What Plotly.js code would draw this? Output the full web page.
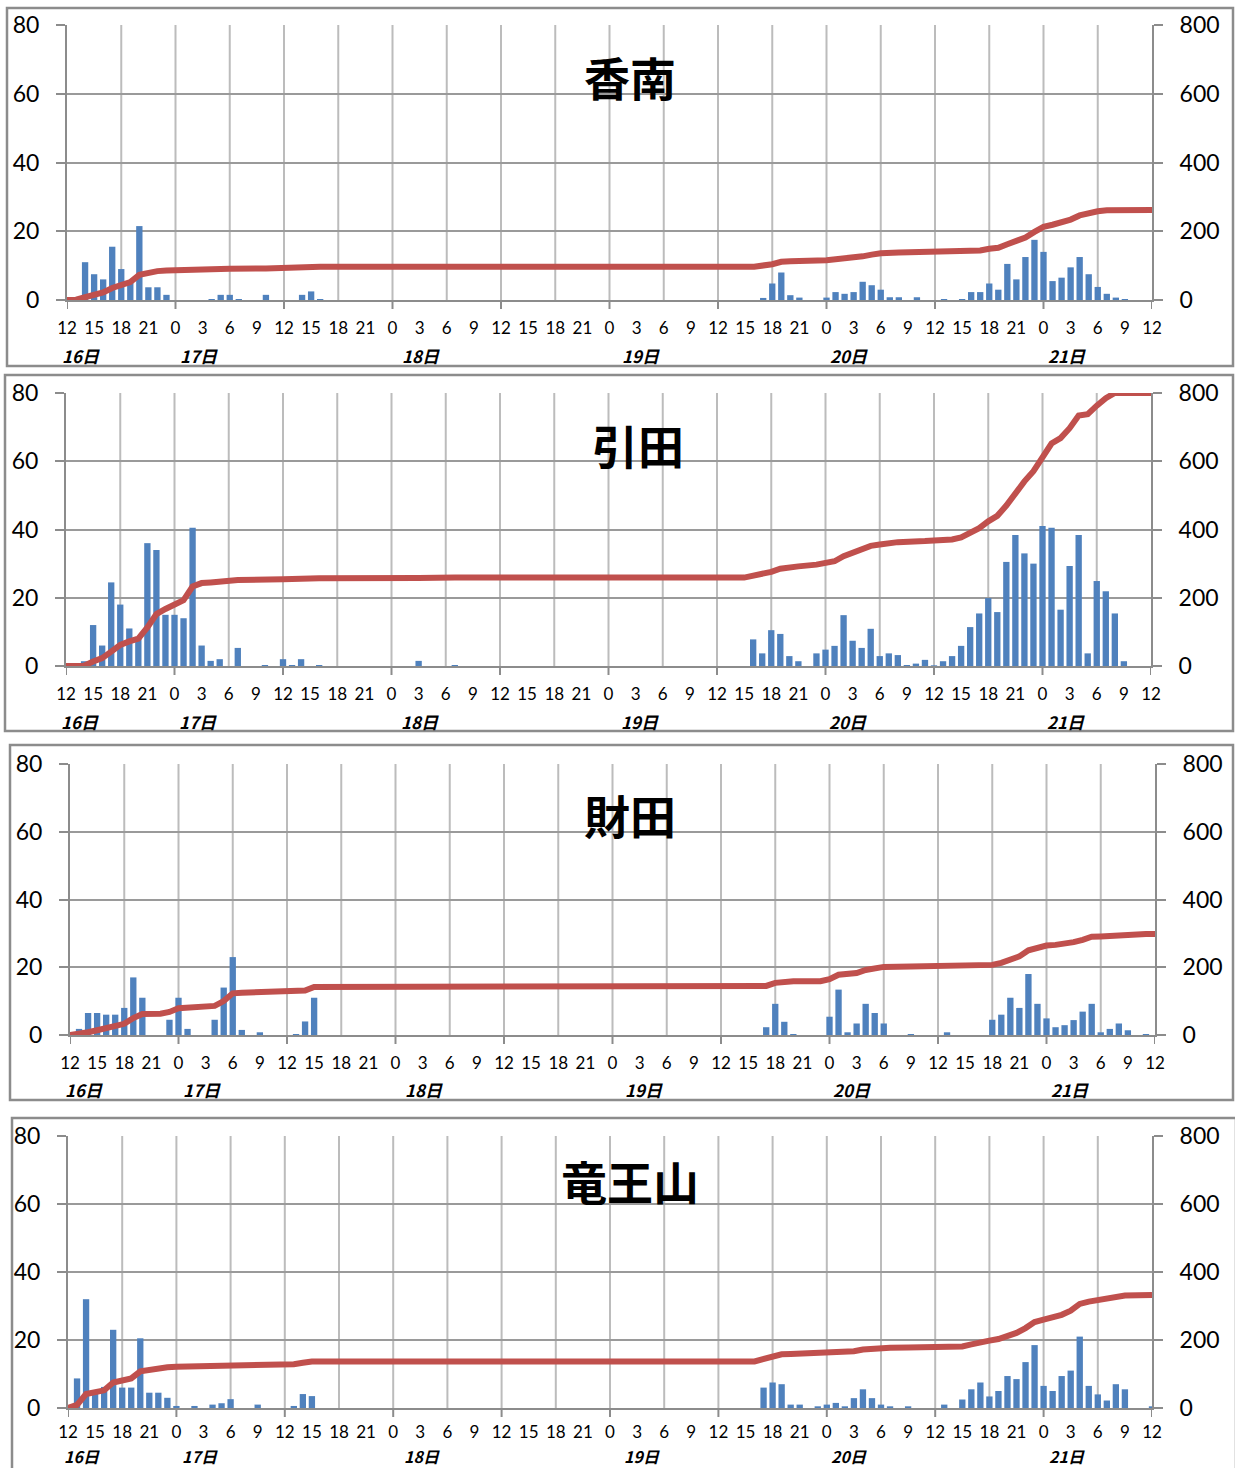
<!DOCTYPE html>
<html><head><meta charset="utf-8">
<script src="https://cdn.plot.ly/plotly-3.0.1.min.js"></script>
<style>html,body{margin:0;padding:0;background:#fff}#chart{width:1235px;height:1468px}</style>
</head><body><div id="chart"></div>
<script>
// ---- data ----
const stationNames = ['香南', '引田', '財田', '竜王山'];

// hourly tick labels (every 3 h, from 16日12時 to 21日12時)
const tickText = ['12','15','18','21','0','3','6','9','12','15','18','21',
                  '0','3','6','9','12','15','18','21',
                  '0','3','6','9','12','15','18','21',
                  '0','3','6','9','12','15','18','21',
                  '0','3','6','9','12'];
const dayLabels = ['16日','17日','18日','19日','20日','21日'];
const dayLabelHour = [1.5, 14.6, 39.2, 63.5, 86.5, 110.6];

// hourly rainfall (mm), hour index 0 = 16日12時 ... 120 = 21日12時
const konanRain = [
  0,0,11,7.5,6,15.5,9,5,21.5,3.7,3.7,1.5,
  0,0,0,0,0.3,1.5,1.5,0.3,0,0,1.5,0,
  0,0,1.5,2.5,0.3,0,0,0,0,0,0,0,
  0,0,0,0,0,0,0,0,0,0,0,0,
  0,0,0,0,0,0,0,0,0,0,0,0,
  0,0,0,0,0,0,0,0,0,0,0,0,
  0,0,0,0,0,0.6,4.8,8,1.4,0.7,0,0,
  0.7,2.3,1.8,2.3,5.3,4.3,3,0.8,0.8,0,0.8,0,
  0,0.3,0,0.3,2.3,2.3,4.8,3,10.5,6,12.5,17.5,
  14,5.5,6.5,9.5,12.5,7.5,3.8,1.8,0.7,0.3,0,0,
  0];
const hiketaRain = [
  0,0,1.4,12,6,24.5,18,11,8.5,36,34,15,
  15,14,40.5,6,1.5,2,0,5.3,0,0,0.3,0,
  2,0.3,2,0,0.3,0,0,0,0,0,0,0,
  0,0,0,1.5,0,0,0,0.3,0,0,0,0,
  0,0,0,0,0,0,0,0,0,0,0,0,
  0,0,0,0,0,0,0,0,0,0,0,0,
  0,0,0,0,7.8,3.7,10.5,9.4,2.9,1.4,0,3.7,
  4.8,5.9,14.9,7.4,5.3,10.9,2.9,3.7,3.2,0.3,0.7,1.8,
  0.2,1.4,2.9,5.9,11.4,15.4,19.9,15.8,30.5,38.4,33,30,
  41,40.5,16.5,29.3,38.4,3.7,24.9,21.9,15.4,1.4,0,0,
  0];
const saitaRain = [
  0,1.8,6.5,6.5,6,6,8,17,11,0,0,4.5,
  11,1.8,0,0,4.5,14,23,1.5,0,0.8,0,0,
  0,0.3,4,11,0,0,0,0,0,0,0,0,
  0,0,0,0,0,0,0,0,0,0,0,0,
  0,0,0,0,0,0,0,0,0,0,0,0,
  0,0,0,0,0,0,0,0,0,0,0,0,
  0,0,0,0,0,2.3,9.2,3.9,0.3,0,0,0,
  5.4,13.4,0.8,3.4,9.2,6.5,3.4,0,0,0.3,0,0,
  0,0.8,0,0,0,0,4.5,6,11,8,18,9.2,
  4.9,2.3,2.9,4.4,6.9,9.2,0.8,1.8,3.4,1.4,0,0.3,
  0];
const ryuozanRain = [
  0,8.7,32,5,6.2,23,6,6,20.5,4.5,4.5,3,
  0.6,0,0.6,0,1,1.4,2.6,0,0,1,0,0,
  0,0.6,4.1,3.5,0,0,0,0,0,0,0,0,
  0,0,0,0,0,0,0,0,0,0,0,0,
  0,0,0,0,0,0,0,0,0,0,0,0,
  0,0,0,0,0,0,0,0,0,0,0,0,
  0,0,0,0,0,6,7.5,7,1,1,0,0.5,
  1,1.5,0.5,2.9,5.5,2.9,1,0.5,0,0.5,0,0,
  0,1,0,2.5,5.5,7.5,3.4,5,9.4,8.5,13.5,18.5,
  6.5,5,9.4,11,21,6.5,4,2.2,7,5.5,0,0,
  0.5];

// cumulative rainfall (mm): hour index / value
const konanCumHour = [0,1,2,3,4,5,6,7,8,9,10,11,12,16,17,18,22,26,27,28,76,77,78,79,80,84,85,86,87,88,89,90,92,96,100,101,102,103,104,105,106,107,108,109,110,111,112,113,114,115,117,120];
const konanCum     = [0,1,8,15,22,35,45,52,73,79,84,86,87,88,89,91,92,94,96,97,97,99,104,111,113,116,118,120,122,127,132,136,138,139,142,144,149,152,162,170,182,198,213,219,225,234,246,254,258,261,262,262];

const hiketaCumHour = [0,2,3,4,5,6,7,8,9,10,11,12,13,14,15,16,17,19,24,26,28,39,43,75,76,77,78,79,80,81,83,84,85,86,87,88,89,90,91,92,95,97,98,99,100,101,102,103,104,105,106,107,108,109,110,111,112,113,114,115,116,120];
const hiketaCum     = [0,1,13,23,42,62,72,80,113,152,167,180,193,233,243,245,247,252,254,256,257,258,259,259,264,268,276,285,290,292,297,302,307,322,332,340,352,356,360,363,366,368,371,377,389,404,424,440,470,508,541,571,612,652,668,697,734,738,763,785,800,800];

const saitaCumHour = [0,1,2,3,4,5,6,7,8,10,11,12,13,15,16,17,18,19,21,25,26,27,76,77,78,79,80,83,84,85,86,87,88,89,90,93,97,101,102,103,104,105,106,107,108,109,110,111,112,113,114,115,116,117,119,120];
const saitaCum     = [0,2,8,14,20,26,33,50,62,63,68,79,81,81,86,100,123,125,126,127,131,142,143,145,154,158,159,159,165,178,179,183,192,198,201,202,203,203,207,213,224,232,250,259,264,266,269,274,281,290,291,293,296,297,298,298];

const ryuozanCumHour = [0,1,2,3,4,5,6,7,8,9,10,11,12,14,16,17,18,21,25,26,27,76,77,78,79,80,81,84,85,86,87,88,89,90,91,93,97,99,100,101,102,103,104,105,106,107,108,109,110,111,112,113,114,115,116,117,120];
const ryuozanCum     = [0,9,41,46,52,75,81,87,108,113,117,120,121,122,123,124,127,128,129,133,137,137,143,151,158,159,160,162,163,164,167,172,175,176,177,178,179,181,187,194,198,203,212,221,235,253,260,265,274,286,306,313,317,319,326,331,332];

// ---- layout helpers ----
const W = 1235, H = 1468;
const rainSeries = [konanRain, hiketaRain, saitaRain, ryuozanRain];
const cumHours = [konanCumHour, hiketaCumHour, saitaCumHour, ryuozanCumHour];
const cumSeries = [konanCum, hiketaCum, saitaCum, ryuozanCum];

const hourIndex = [];
for (let i = 0; i < rainSeries[0].length; i++) hourIndex.push(i);
const tickHours = [];
for (let i = 0; i < tickText.length; i++) tickHours.push(i * 3);

// pixel boxes of the four panels
const panels = [
  {L: 67, R: 1152, T: 25,   B: 300,  box: [7, 8, 1233, 366],     tx: 630, ty: 76,   dy: -55, so: 12, ds: 17},
  {L: 66, R: 1151, T: 393,  B: 666,  box: [5, 375, 1233, 731],   tx: 638, ty: 444,  dy: -55, so: 12, ds: 17},
  {L: 70, R: 1155, T: 764,  B: 1035, box: [10, 745, 1233, 1100], tx: 630, ty: 814,  dy: -54, so: 12, ds: 17},
  {L: 68, R: 1152, T: 1136, B: 1408, box: [12, 1118, 1236, 1475], tx: 630, ty: 1180, dy: -48, so: 8,  ds: 16}
];

const tickFont = {family: 'Lato, "Open Sans", sans-serif', size: 17, color: '#000'};
const yFont = {family: 'Lato, "Open Sans", sans-serif', size: 23, color: '#000'};
const axisGray = '#8c8c8c';

const data = [];
const layout = {
  width: W, height: H,
  margin: {l: 0, r: 0, t: 0, b: 0},
  paper_bgcolor: '#fff', plot_bgcolor: 'rgba(0,0,0,0)',
  showlegend: false,
  shapes: [], annotations: []
};

panels.forEach((p, k) => {
  const n = k + 1;
  const xa = 'x' + (n > 1 ? n : '');
  const ya = 'y' + (n > 1 ? n : '');
  const yr = 'y' + (n + 4);
  const xKey = 'xaxis' + (n > 1 ? n : '');
  const yKey = 'yaxis' + (n > 1 ? n : '');
  const yrKey = 'yaxis' + (n + 4);

  data.push({
    type: 'bar', x: hourIndex, y: rainSeries[k], xaxis: xa, yaxis: ya,
    width: 0.7, marker: {color: '#4F81BD', line: {width: 0}}, hoverinfo: 'skip'
  });
  data.push({
    type: 'scatter', mode: 'lines', x: cumHours[k], y: cumSeries[k], xaxis: xa, yaxis: yr,
    line: {color: '#C0504D', width: 6}, hoverinfo: 'skip'
  });

  layout[xKey] = {
    domain: [p.L / W, p.R / W], anchor: ya, range: [0, 120],
    tickmode: 'array', tickvals: tickHours, ticktext: tickText,
    ticks: '', showgrid: false, zeroline: false,
    showline: true, linecolor: axisGray, linewidth: 2,
    tickfont: tickFont, ticklabelstandoff: p.so, fixedrange: true
  };
  layout[yKey] = {
    domain: [1 - p.B / H, 1 - p.T / H], anchor: xa, range: [0, 80],
    tickmode: 'array', tickvals: [0, 20, 40, 60, 80],
    ticks: 'outside', ticklen: 9, tickwidth: 2, tickcolor: axisGray,
    showgrid: true, gridcolor: '#9a9a9a', gridwidth: 2, zeroline: false,
    showline: true, linecolor: axisGray, linewidth: 2,
    tickfont: yFont, ticklabelstandoff: 12, fixedrange: true
  };
  layout[yrKey] = {
    overlaying: ya, side: 'right', anchor: xa, range: [0, 800],
    tickmode: 'array', tickvals: [0, 200, 400, 600, 800],
    ticks: 'outside', ticklen: 9, tickwidth: 2, tickcolor: axisGray,
    showgrid: false, zeroline: false,
    showline: true, linecolor: axisGray, linewidth: 2,
    tickfont: yFont, ticklabelstandoff: 12, fixedrange: true
  };

  // vertical grid every 6 h
  for (let h = 6; h < 120; h += 6) {
    layout.shapes.push({type: 'line', layer: 'below', xref: xa, yref: ya + ' domain',
      x0: h, x1: h, y0: 0, y1: 1, line: {color: '#bcbcbc', width: 2}});
  }
  // x tick marks every 12 h
  for (let h = 0; h <= 120; h += 12) {
    layout.shapes.push({type: 'line', xref: xa, yref: ya + ' domain',
      ysizemode: 'pixel', yanchor: 0, x0: h, x1: h, y0: 0, y1: -9,
      line: {color: axisGray, width: 2}});
  }
  // panel border
  layout.shapes.push({type: 'rect', xref: 'paper', yref: 'paper',
    x0: p.box[0] / W, x1: p.box[2] / W, y0: 1 - p.box[3] / H, y1: 1 - p.box[1] / H,
    line: {color: '#8c8c8c', width: 2.5}, fillcolor: 'rgba(0,0,0,0)'});

  // station title
  layout.annotations.push({xref: 'paper', yref: 'paper', x: p.tx / W, y: 1 - p.ty / H,
    xanchor: 'center', yanchor: 'middle', showarrow: false,
    text: '<b>' + stationNames[k] + '</b>',
    font: {family: '"Noto Sans CJK JP", sans-serif', size: 46, color: '#000'}});

  // day labels
  dayLabels.forEach((d, j) => {
    layout.annotations.push({xref: xa, yref: ya + ' domain', x: dayLabelHour[j], y: 0,
      xanchor: 'center', yanchor: 'middle', yshift: p.dy, showarrow: false,
      borderpad: 0,
      text: '<b><i>' + d + '</i></b>',
      font: {family: '"Noto Sans CJK JP", sans-serif', size: p.ds, color: '#000'}});
  });
});

Plotly.newPlot('chart', data, layout, {staticPlot: true, displayModeBar: false});
</script>
</body></html>
